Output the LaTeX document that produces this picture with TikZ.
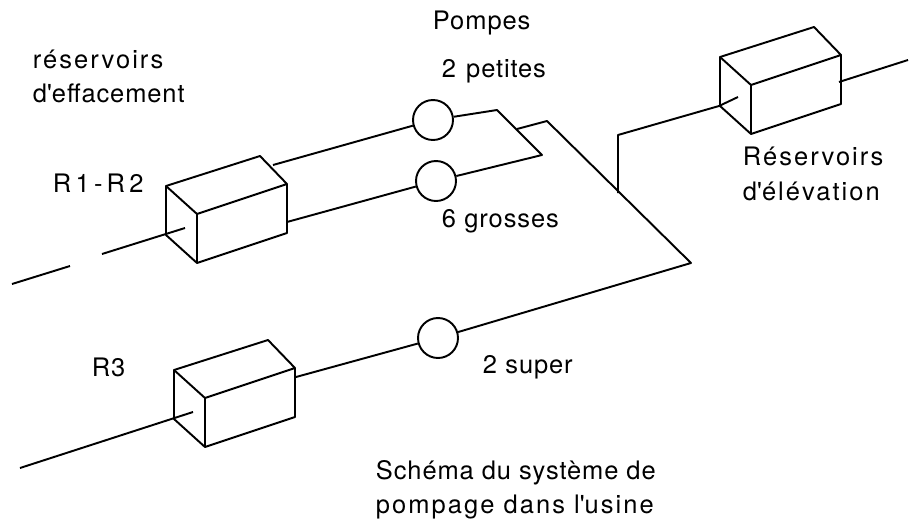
\documentclass[tikz,border=0pt]{standalone}
\usepackage{fontspec}
\setmainfont{TeX Gyre Heros}[LetterSpace=3.5]
\usetikzlibrary{positioning}
\tikzset{
  wider/.style={font=\fontsize{14.5}{17}\selectfont\addfontfeature{LetterSpace=8}},
  reservoir/.pic={
    \coordinate (-a) at (0,0);
    \coordinate (-b) at (31,28);
    \coordinate (-c) at (31,77);
    \coordinate (-d) at (0,49);
    \coordinate (-e) at (94,-30);
    \coordinate (-f) at (121,-2);
    \coordinate (-g) at (121,47);
    \draw (-a) -- (-b) -- (-c) -- (-d) -- cycle;
    \draw (-a) -- (-e) -- (-f) -- (-b);
    \draw (-c) -- (-g) -- (-f);
  }
}

\begin{document}
\begin{tikzpicture}[x=0.02cm,y=-0.02cm,line width=1.1pt,line join=round]
    \useasboundingbox (0,0) rectangle (909,521);

    \pic (r1) at (166,186) {reservoir};
    \pic (r3) at (174,370) {reservoir};
    \pic (re) at (720,57) {reservoir};

    \begin{scope}[every node/.style={circle,draw,fill=white,minimum size=0.8cm,inner sep=0pt}]
      \node (p1) at (433,120) {};
      \node (p2) at (436,181) {};
      \node (p3) at (438,338) {};
    \end{scope}

    % free ends
    \coordinate (in1a) at (102,254);
    \coordinate (in1b) at (185,228);
    \coordinate (dash1) at (12,284);
    \coordinate (dash2) at (70,266);
    \coordinate (out1) at (273,165);
    \coordinate (out2) at (287,222);
    \coordinate (in3a) at (20,468);
    \coordinate (in3b) at (193,412);
    \coordinate (out3) at (296,377);
    \coordinate (k1) at (497,110);
    \coordinate (k2) at (542,155);
    \coordinate (k3) at (517,129);
    \coordinate (k4) at (547,121);
    \coordinate (k5) at (691,263);
    \coordinate (k6) at (618,193);
    \coordinate (k7) at (618,135);
    \coordinate (k8) at (719,106);
    \coordinate (ine) at (738,97);
    \coordinate (oute) at (839,82);
    \coordinate (oute2) at (908,60);

    \draw (dash1) -- (dash2);
    \draw (in1a) -- (in1b);
    \draw (out1) -- (p1);
    \draw (out2) -- (p2);
    \draw (p1) -- (k1) -- (k2) -- (p2);
    \draw (k3) -- (k4) -- (k5) -- (p3);
    \draw (k6) -- (k7) -- (k8) -- (ine);
    \draw (oute) -- (oute2);
    \draw (in3a) -- (in3b);
    \draw (out3) -- (p3);

    \begin{scope}[every node/.style={font=\fontsize{14.5}{17}\selectfont,inner sep=0pt,anchor=base west}]
      \node (pompes) at (432,29) {Pompes};
      \node[wider] (effa1) at (32,68) {réservoirs};
      \node (effa2) at (32,102) {d\textquotesingle effacement};
      \node (r12) at (52,192) {R\,1\,-\,R\,2};
      \node (petites) at (441,77) {2 \kern 1.2pt petites};
      \node (grosses) at (441,227) {6 \kern 0.2pt grosses};
      \node (r3l) at (91,376) {R3};
      \node (super) at (482,373) {2 \kern 0.2pt super};
      \node[wider] (rese1) at (742,165) {Réservoirs};
      \node[wider] (rese2) at (742,200) {d\textquotesingle élévation};
      \node (sch1) at (375,479) {Schéma du système de};
      \node[wider] (sch2) at (375,513) {pompage dans l\textquotesingle usine};
    \end{scope}
\end{tikzpicture}
\end{document}
